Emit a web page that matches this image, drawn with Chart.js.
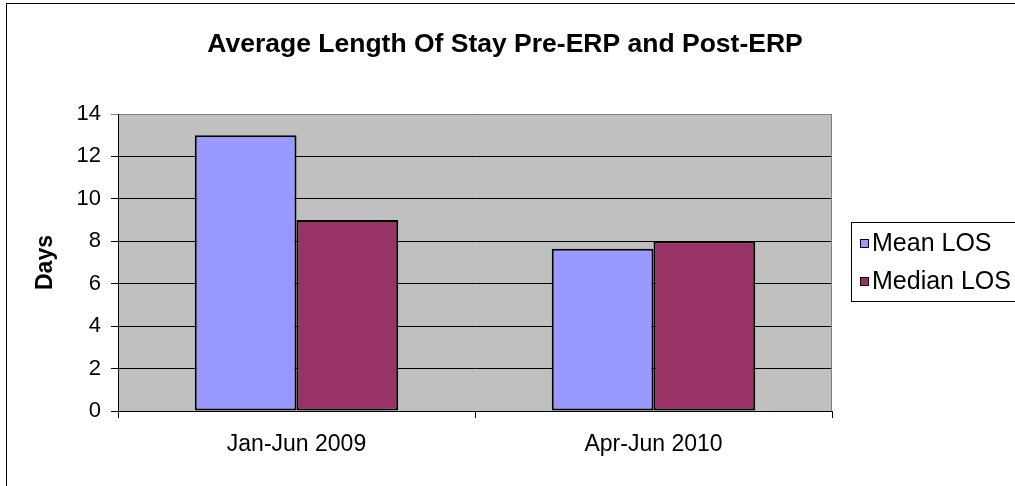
<!DOCTYPE html>
<html>
<head>
<meta charset="utf-8">
<title>Average Length Of Stay</title>
<script src="https://cdn.jsdelivr.net/npm/chart.js@4.4.0/dist/chart.umd.min.js"></script>
<style>
  html, body { margin: 0; padding: 0; background: #fff; }
  #wrap { width: 1015px; height: 486px; }
</style>
</head>
<body>
<div id="wrap"><canvas id="grafico" width="1015" height="486"></canvas></div>
<script>
// Datos
const categorias = ['Jan-Jun 2009', 'Apr-Jun 2010'];
const mediaLOS = [13, 7.65];
const medianaLOS = [9, 8];
const nombresSeries = ['Mean LOS', 'Median LOS'];
const ticksY = [0, 2, 4, 6, 8, 10, 12, 14];
const tituloGrafico = 'Average Length Of Stay Pre-ERP and Post-ERP';
const tituloEjeY = 'Days';

const COLORES = { media: '#9999FF', mediana: '#993366', fondoPlot: '#C0C0C0', borde: '#808080' };
const FUENTE = '"Liberation Sans", Arial, sans-serif';

Chart.defaults.color = '#000';
Chart.defaults.font.family = FUENTE;

// Fondo gris del área, marco exterior, título y leyenda al estilo Excel
const marcoExcel = {
    id: 'marcoExcel',
    beforeDraw(chart) {
        const { ctx, chartArea: a } = chart;
        ctx.save();
        ctx.fillStyle = '#fff';
        ctx.fillRect(0, 0, chart.width, chart.height);
        ctx.fillStyle = COLORES.fondoPlot;
        ctx.fillRect(a.left, a.top, a.right - a.left, a.bottom - a.top);
        ctx.restore();
    },
    afterDraw(chart) {
        const { ctx, chartArea: a } = chart;
        ctx.save();

        // borde derecho del área de trazado
        ctx.strokeStyle = COLORES.borde;
        ctx.lineWidth = 1;
        ctx.beginPath();
        ctx.moveTo(Math.round(a.right) - 0.5, a.top);
        ctx.lineTo(Math.round(a.right) - 0.5, a.bottom);
        ctx.stroke();

        // marco exterior
        ctx.strokeStyle = '#000';
        ctx.strokeRect(6.5, 3.5, 1200, 700);

        // título
        ctx.fillStyle = '#000';
        ctx.font = 'bold 26.5px ' + FUENTE;
        ctx.textAlign = 'center';
        ctx.textBaseline = 'middle';
        ctx.fillText(tituloGrafico, 505, 45);

        // leyenda
        ctx.strokeStyle = '#000';
        ctx.strokeRect(851.5, 222.5, 300, 79);
        ctx.font = '25px ' + FUENTE;
        ctx.textAlign = 'left';
        chart.data.datasets.forEach((ds, i) => {
            const y = 243 + i * 38;
            ctx.fillStyle = ds.backgroundColor;
            ctx.fillRect(860, y - 4, 9, 9);
            ctx.strokeStyle = '#000';
            ctx.strokeRect(860.5, y - 3.5, 8, 8);
            ctx.fillStyle = '#000';
            ctx.fillText(ds.label, 872, y + 1);
        });
        ctx.restore();
    }
};

const ctx = document.getElementById('grafico').getContext('2d');
const grafico = new Chart(ctx, {
    type: 'bar',
    data: {
        labels: categorias,
        datasets: [
            {
                label: nombresSeries[0],
                data: mediaLOS,
                backgroundColor: COLORES.media,
                borderColor: '#000',
                borderWidth: 2,
                borderSkipped: false
            },
            {
                label: nombresSeries[1],
                data: medianaLOS,
                backgroundColor: COLORES.mediana,
                borderColor: '#000',
                borderWidth: 2,
                borderSkipped: false
            }
        ]
    },
    options: {
        responsive: false,
        animation: false,
        devicePixelRatio: 1,
        layout: { padding: { top: 114, right: 183, bottom: 0, left: 0 } },
        datasets: { bar: { categoryPercentage: 0.57, barPercentage: 1.0 } },
        scales: {
            x: {
                afterFit: (scale) => { scale.height = 75; },
                grid: {
                    offset: true,
                    drawOnChartArea: false,
                    drawTicks: true,
                    tickLength: 7,
                    color: '#000'
                },
                border: { color: '#000', width: 1 },
                ticks: { font: { size: 23 }, padding: 13, color: '#000' }
            },
            y: {
                min: 0,
                max: 14,
                afterFit: (scale) => { scale.width = 118; },
                afterBuildTicks: (scale) => { scale.ticks = ticksY.map(v => ({ value: v })); },
                grid: {
                    color: (c) => (c.tick && c.tick.value === 14 ? COLORES.borde : '#000'),
                    tickLength: 7,
                    drawTicks: true
                },
                border: { color: '#000', width: 1 },
                ticks: { font: { size: 22 }, padding: 10, color: '#000' },
                title: {
                    display: true,
                    text: tituloEjeY,
                    font: { size: 23, weight: 'bold' },
                    color: '#000',
                    padding: { top: 32, bottom: 0 }
                }
            }
        },
        plugins: {
            legend: { display: false },
            title: { display: false },
            tooltip: { enabled: false }
        }
    },
    plugins: [marcoExcel]
});
</script>
</body>
</html>
